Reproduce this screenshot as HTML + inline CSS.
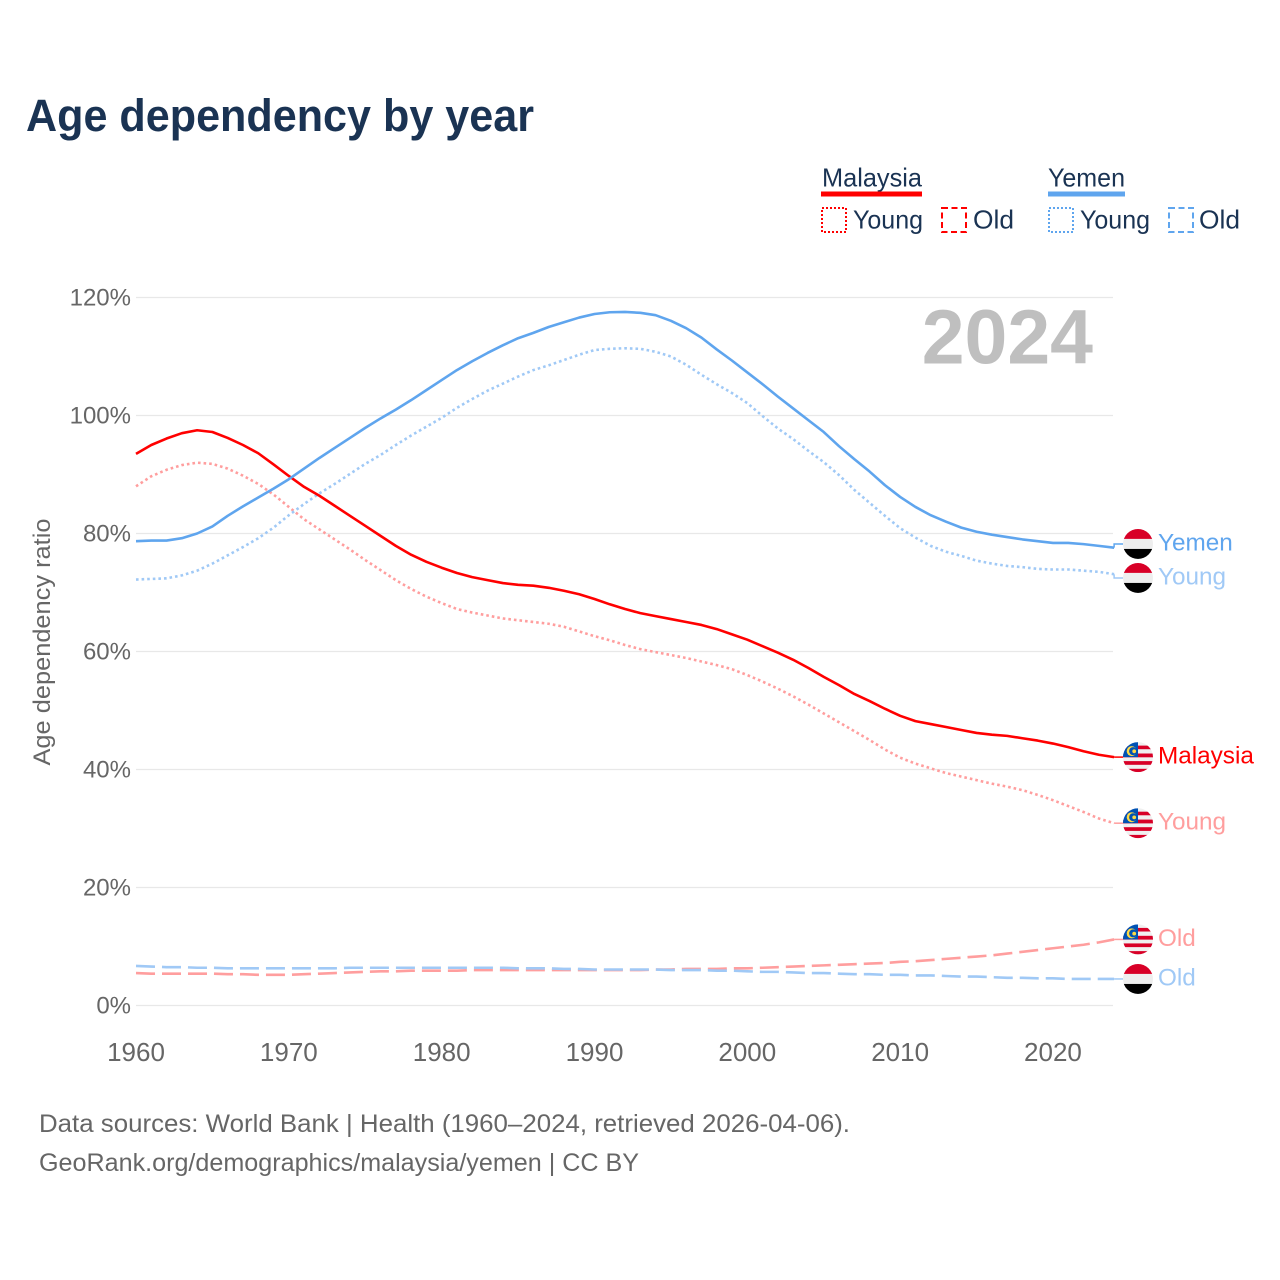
<!DOCTYPE html>
<html lang="en">
<head>
<meta charset="utf-8">
<title>Age dependency by year</title>
<style>
html,body{margin:0;padding:0;background:#fff}
svg{display:block}
text{font-family:"Liberation Sans",sans-serif}
</style>
</head>
<body>
<svg id="chart" xmlns="http://www.w3.org/2000/svg" width="1280" height="1280" viewBox="0 0 1280 1280">
<defs>
<clipPath id="flag-clip"><circle cx="0" cy="0" r="15"/></clipPath>
<g id="flag-yemen">
<g clip-path="url(#flag-clip)">
<rect x="-15" y="-15" width="30" height="10" fill="#d80027"/>
<rect x="-15" y="-5" width="30" height="10" fill="#eeeeee"/>
<rect x="-15" y="5" width="30" height="10" fill="#000000"/>
</g>
</g>
<g id="flag-malaysia">
<g clip-path="url(#flag-clip)">
<rect x="-15" y="-15" width="30" height="30" fill="#f0f0f0"/>
<rect x="-15" y="-11.5" width="30" height="3.6" fill="#d80027"/>
<rect x="-15" y="-3.6" width="30" height="3.8" fill="#d80027"/>
<rect x="-15" y="4" width="30" height="3.7" fill="#d80027"/>
<rect x="-15" y="11.7" width="30" height="3.3" fill="#d80027"/>
<rect x="-15" y="-15" width="15" height="15" fill="#0052b4"/>
<circle cx="-6.3" cy="-6" r="5" fill="#ffda44"/>
<circle cx="-4.9" cy="-6" r="4" fill="#0052b4"/>
<circle cx="-3.8" cy="-5.8" r="1.9" fill="#ffda44"/>
</g>
</g>
</defs>

<text x="26" y="131" font-size="45" font-weight="700" fill="#1a3353" textLength="508" lengthAdjust="spacingAndGlyphs">Age dependency by year</text>

<g font-size="26" fill="#1a3353">
<text x="822" y="186.5" textLength="100" lengthAdjust="spacingAndGlyphs">Malaysia</text>
<rect x="821" y="191.5" width="101" height="5" fill="#ff0000"/>
<rect x="822" y="208" width="24" height="24" fill="none" stroke="#ff0000" stroke-width="2" stroke-dasharray="2 2"/>
<text x="853" y="228.5" textLength="70" lengthAdjust="spacingAndGlyphs">Young</text>
<rect x="942" y="208" width="24" height="24" fill="none" stroke="#ff0000" stroke-width="2" stroke-dasharray="6 3.5"/>
<text x="973" y="228.5" textLength="41" lengthAdjust="spacingAndGlyphs">Old</text>
<text x="1048" y="186.5" textLength="77" lengthAdjust="spacingAndGlyphs">Yemen</text>
<rect x="1048" y="191.5" width="77" height="5" fill="#5fa5ee"/>
<rect x="1049" y="208" width="24" height="24" fill="none" stroke="#5fa5ee" stroke-width="2" stroke-dasharray="2 2"/>
<text x="1080" y="228.5" textLength="70" lengthAdjust="spacingAndGlyphs">Young</text>
<rect x="1169" y="208" width="24" height="24" fill="none" stroke="#5fa5ee" stroke-width="2" stroke-dasharray="6 3.5"/>
<text x="1199" y="228.5" textLength="41" lengthAdjust="spacingAndGlyphs">Old</text>
</g>

<g id="grid"></g>
<g id="y-ticks"></g>
<g id="x-ticks"></g>
<text transform="translate(50 642) rotate(-90)" text-anchor="middle" font-size="24" fill="#666666" textLength="247" lengthAdjust="spacingAndGlyphs">Age dependency ratio</text>
<text x="1093" y="363.5" text-anchor="end" font-size="77" font-weight="700" fill="#bfbfbf">2024</text>
<g id="series"></g>
<g id="end-labels"></g>

<text x="39" y="1132" font-size="25" fill="#666666" textLength="811" lengthAdjust="spacingAndGlyphs">Data sources: World Bank | Health (1960–2024, retrieved 2026-04-06).</text>
<text x="39" y="1171" font-size="25" fill="#666666" textLength="600" lengthAdjust="spacingAndGlyphs">GeoRank.org/demographics/malaysia/yemen | CC BY</text>
</svg>
<script>
const startYear = 1960;
const xTickYears = [1960, 1970, 1980, 1990, 2000, 2010, 2020];
const yTickValues = [0, 20, 40, 60, 80, 100, 120];

const malaysiaTotal = [93.5,95,96.1,97,97.5,97.2,96.2,95,93.6,91.7,89.75,87.9,86.4,84.7,83,81.3,79.6,77.9,76.4,75.2,74.2,73.3,72.6,72.1,71.6,71.3,71.15,70.8,70.3,69.7,68.9,68,67.2,66.5,66,65.5,65,64.5,63.8,62.9,62,60.9,59.8,58.6,57.2,55.7,54.3,52.8,51.6,50.3,49.1,48.2,47.7,47.2,46.7,46.2,45.9,45.7,45.3,44.9,44.4,43.8,43.1,42.5,42.1];
const malaysiaYoung = [88,89.7,90.8,91.6,92,91.8,91,89.8,88.4,86.6,84.5,82.4,80.7,79,77.3,75.5,73.8,72.1,70.6,69.3,68.2,67.2,66.6,66.1,65.6,65.3,65,64.7,64.2,63.4,62.6,61.9,61.1,60.4,59.9,59.4,58.9,58.3,57.7,57,56,54.9,53.7,52.4,51,49.5,48,46.5,45,43.4,42,41,40.2,39.4,38.8,38.2,37.6,37.1,36.5,35.7,34.8,33.8,32.8,31.7,30.9];
const malaysiaOld = [5.5,5.4,5.4,5.4,5.4,5.4,5.3,5.3,5.2,5.2,5.2,5.3,5.4,5.5,5.6,5.7,5.8,5.8,5.9,5.9,5.9,5.9,6,6,6,6,6,6,6,6,6,6,6,6,6.1,6.1,6.2,6.2,6.2,6.3,6.3,6.4,6.5,6.6,6.7,6.8,6.9,7,7.1,7.2,7.4,7.5,7.7,7.9,8.1,8.3,8.5,8.8,9.1,9.4,9.7,10,10.3,10.7,11.2];
const yemenTotal = [78.7,78.8,78.8,79.2,80,81.2,83,84.6,86.1,87.6,89.2,91,92.8,94.5,96.2,97.9,99.5,101,102.6,104.3,106,107.7,109.2,110.6,111.9,113.1,114,115,115.8,116.6,117.2,117.5,117.55,117.4,117,116.05,114.8,113.2,111.2,109.3,107.3,105.3,103.2,101.2,99.2,97.2,94.8,92.6,90.5,88.2,86.2,84.5,83.1,82,81,80.3,79.8,79.4,79,78.7,78.4,78.4,78.2,77.9,77.6];
const yemenYoung = [72.2,72.3,72.4,72.9,73.7,74.9,76.3,77.7,79.2,81,83.1,85,86.8,88.4,90.1,91.8,93.3,95,96.6,98.1,99.6,101.3,102.8,104.2,105.4,106.6,107.7,108.5,109.4,110.3,111.1,111.3,111.4,111.3,110.8,110,108.6,106.9,105.3,103.8,102.1,99.9,97.8,96,94,92.1,89.9,87.4,85.2,83,80.9,79.3,77.9,76.9,76.2,75.4,74.9,74.5,74.3,74,73.9,73.9,73.7,73.5,73.1];
const yemenOld = [6.7,6.6,6.5,6.5,6.4,6.4,6.3,6.3,6.3,6.3,6.3,6.3,6.3,6.3,6.4,6.4,6.4,6.4,6.4,6.4,6.4,6.4,6.4,6.4,6.4,6.3,6.3,6.3,6.2,6.2,6.1,6.1,6.1,6.1,6.1,6,6,6,5.9,5.9,5.8,5.7,5.7,5.6,5.5,5.5,5.4,5.3,5.3,5.2,5.2,5.1,5.1,5,4.9,4.9,4.8,4.7,4.7,4.6,4.6,4.5,4.5,4.5,4.5];

const RED = '#ff0000';
const BLUE = '#5fa5ee';
const RED_LIGHT = '#ff9e9e';
const BLUE_LIGHT = '#a0c9f6';
const DOT = '2.6 3';
const DASH = '19 7';
const seriesList = [
  {key:'malaysia-old', values:malaysiaOld, color:RED_LIGHT, dash:DASH, label:'Old', flag:'malaysia'},
  {key:'yemen-old', values:yemenOld, color:BLUE_LIGHT, dash:DASH, label:'Old', flag:'yemen'},
  {key:'malaysia-young', values:malaysiaYoung, color:RED_LIGHT, dash:DOT, label:'Young', flag:'malaysia'},
  {key:'yemen-young', values:yemenYoung, color:BLUE_LIGHT, dash:DOT, label:'Young', flag:'yemen'},
  {key:'malaysia-total', values:malaysiaTotal, color:RED, dash:null, label:'Malaysia', flag:'malaysia'},
  {key:'yemen-total', values:yemenTotal, color:BLUE, dash:null, label:'Yemen', flag:'yemen'}
];

const NS = 'http://www.w3.org/2000/svg';
const xScale = year => 136 + (year - startYear) * 15.283;
const yScale = value => 1005.5 - value * 5.9;
const make = (tag, parent, props) => {
  const el = document.createElementNS(NS, tag);
  Object.keys(props).forEach(k => el.setAttribute(k, props[k]));
  parent.appendChild(el);
  return el;
};

const grid = document.getElementById('grid');
const yTicks = document.getElementById('y-ticks');
const xTicks = document.getElementById('x-ticks');
yTickValues.forEach(v => {
  const line = make('line', grid, {x1:136, x2:1113, y1:yScale(v), y2:yScale(v), stroke:'#e8e8e8', 'stroke-width':1.2});
  
  
  const t = make('text', yTicks, {x:131, y:yScale(v) + 8, 'text-anchor':'end', 'font-size':24, fill:'#666666'});
  t.textContent = v + '%';
  
  
});
xTickYears.forEach(y => {
  const t = make('text', xTicks, {x:xScale(y), y:1061, 'text-anchor':'middle', 'font-size':26, fill:'#666666'});
  t.textContent = y;
  
  
});

/* End-label positions: last value on the axis, nudged apart when labels would collide */
const MIN_GAP = 34;
const placed = seriesList.map(s => ({s:s, y:yScale(s.values[s.values.length - 1])})).sort((a, b) => a.y - b.y);
for (let pass = 0; pass < 20; pass++) {
  for (let i = 1; i < placed.length; i++) {
    const overlap = MIN_GAP - (placed[i].y - placed[i - 1].y);
    if (overlap > 0) {
      placed[i - 1].y -= overlap / 2;
      placed[i].y += overlap / 2;
    }
  }
}
placed.forEach(p => { p.s.labelY = p.y; });

const seriesGroup = document.getElementById('series');
const labelGroup = document.getElementById('end-labels');
seriesList.forEach(s => {
  const pts = s.values.map((v, i) => xScale(startYear + i).toFixed(2) + ',' + yScale(v).toFixed(2));
  const lastX = xScale(startYear + s.values.length - 1);
  const endY = yScale(s.values[s.values.length - 1]);
  const path = make('path', seriesGroup, {d:'M' + pts.join(' L'), fill:'none', stroke:s.color, 'stroke-width':2.6, 'stroke-linejoin':'round'});
  if (s.dash) path.setAttribute('stroke-dasharray', s.dash);
  
  

  const connector = make('path', seriesGroup, {d:'M' + lastX.toFixed(2) + ',' + endY.toFixed(2) + ' L' + lastX.toFixed(2) + ',' + s.labelY.toFixed(2) + ' L1123,' + s.labelY.toFixed(2), fill:'none', stroke:s.color, 'stroke-width':1.5});
  
  

  const flag = make('use', labelGroup, {href:'#flag-' + s.flag, transform:'translate(1138 ' + s.labelY.toFixed(2) + ')'});
  
  

  const label = make('text', labelGroup, {x:1158, y:(s.labelY + 6.5).toFixed(2), 'font-size':24.3, fill:s.color});
  label.textContent = s.label;
  
  
});
</script>
</body>
</html>
